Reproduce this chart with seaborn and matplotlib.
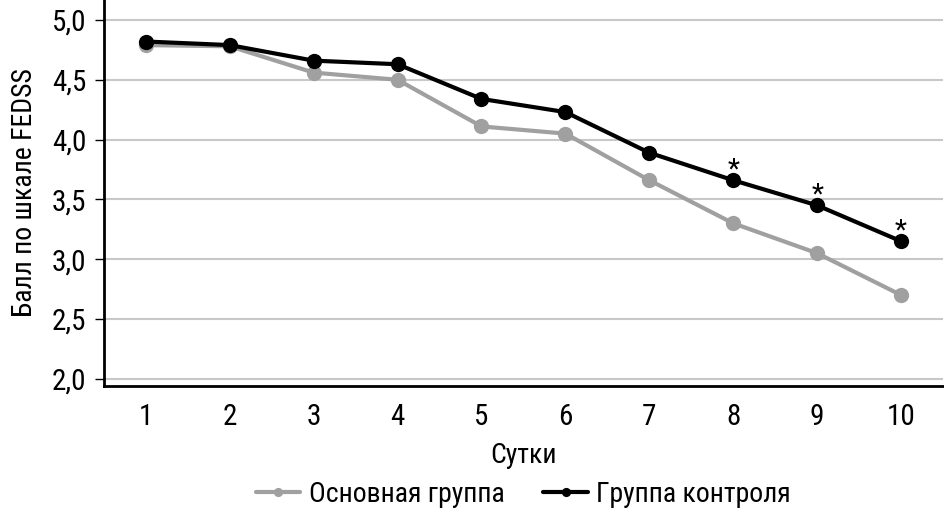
import numpy as np
import pandas as pd
import matplotlib
matplotlib.use('Agg')
import matplotlib.pyplot as plt
import seaborn as sns

days = [1, 2, 3, 4, 5, 6, 7, 8, 9, 10]
main_group = [4.79, 4.78, 4.56, 4.50, 4.11, 4.05, 3.66, 3.30, 3.05, 2.70]
control_group = [4.82, 4.79, 4.66, 4.63, 4.34, 4.23, 3.89, 3.66, 3.45, 3.15]
series_names = ['Основная группа', 'Группа контроля']
significant_days = [8, 9, 10]
y_ticks = [2.0, 2.5, 3.0, 3.5, 4.0, 4.5, 5.0]
y_tick_labels = ['2,0', '2,5', '3,0', '3,5', '4,0', '4,5', '5,0']

df = pd.DataFrame({
    'day': days * 2,
    'score': main_group + control_group,
    'group': [series_names[0]] * len(days) + [series_names[1]] * len(days),
})

sns.set_style('white')
plt.rcParams['font.family'] = ['Roboto Condensed', 'Liberation Sans Narrow', 'DejaVu Sans']
for k in ['text.color', 'axes.labelcolor', 'xtick.color', 'ytick.color']:
    plt.rcParams[k] = 'black'

fig = plt.figure(figsize=(9.44, 5.15), dpi=100)
ax = fig.add_axes([0.110, 0.2505, 0.889, 0.7495])

ax.set_ylim(1.94, 5.167)
ax.set_xlim(0.5, 10.5)
for t in y_ticks:
    ax.axhline(t, color='#c8c8c8', lw=1.5, zorder=0)

sns.lineplot(data=df, x='day', y='score', hue='group', hue_order=series_names,
             palette=['#a0a0a0', '#000000'], marker='o', markersize=11,
             markeredgewidth=0, linewidth=3, ax=ax)

for d in significant_days:
    ax.annotate('*', (d, control_group[days.index(d)]), xytext=(0, 2),
                textcoords='offset points', ha='center', va='baseline', fontsize=20)

ax.set_xticks(days)
ax.set_xticklabels([str(d) for d in days])
ax.set_yticks(y_ticks)
ax.set_yticklabels(y_tick_labels)
ax.tick_params(axis='y', left=True, length=6.5, width=1, labelsize=21, pad=6)
ax.tick_params(axis='x', bottom=False, labelsize=21, pad=9)
for s in ['top', 'right']:
    ax.spines[s].set_visible(False)
for s in ['left', 'bottom']:
    ax.spines[s].set_linewidth(2)
    ax.spines[s].set_color('black')

ax.set_xlabel('Сутки', fontsize=20, labelpad=8)
ax.set_ylabel('Балл по шкале FEDSS', fontsize=20, labelpad=10)

ax.legend(loc='center', bbox_to_anchor=(0.5, -0.28), ncol=2, frameon=False,
          fontsize=20, handlelength=1.6, columnspacing=1.4, handletextpad=0.3,
          markerscale=0.6)

fig.savefig('out.png', dpi=100)
